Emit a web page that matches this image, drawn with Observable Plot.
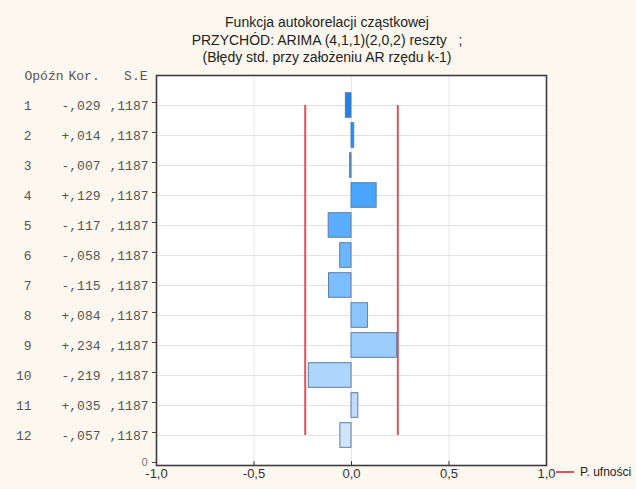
<!DOCTYPE html>
<html>
<head>
<meta charset="utf-8">
<script src="https://cdn.jsdelivr.net/npm/d3@7"></script>
<script src="https://cdn.jsdelivr.net/npm/@observablehq/plot@0.6"></script>
<style>
  html, body { margin: 0; padding: 0; }
  #wrap { position: relative; width: 636px; height: 489px; overflow: hidden; background: #fcf8ef; font-family: "Liberation Sans", Arial, sans-serif; }
  #title { position: absolute; left: 0; top: 14px; width: 654px; text-align: center; font-size: 14px; line-height: 17.5px; color: #222; white-space: pre; }
  #chart { position: absolute; left: 0; top: 66px; }
  #legend { position: absolute; left: 556px; top: 465px; font-size: 12px; color: #222; white-space: nowrap; }
  #legend .ln { display: inline-block; width: 18px; height: 0; border-top: 2px solid #d9545e; vertical-align: middle; margin-right: 6px; position: relative; top: -1px; }
</style>
</head>
<body>
<div id="wrap">
  <div id="title">Funkcja autokorelacji cząstkowej
PRZYCHÓD: ARIMA (4,1,1)(2,0,2) reszty   ;
(Błędy std. przy założeniu AR rzędu k-1)</div>
  <div id="chart"></div>
  <div id="legend"><span class="ln"></span>P. ufności</div>
</div>
<script>
// Data
const lags = [1, 2, 3, 4, 5, 6, 7, 8, 9, 10, 11, 12];
const kor = [-0.029, 0.014, -0.007, 0.129, -0.117, -0.058, -0.115, 0.084, 0.234, -0.219, 0.035, -0.057];
const se = [0.1187, 0.1187, 0.1187, 0.1187, 0.1187, 0.1187, 0.1187, 0.1187, 0.1187, 0.1187, 0.1187, 0.1187];
const headerLabels = ["Opóźn", "Kor.", "S.E"];
const xTicks = [-1, -0.5, 0, 0.5, 1];
const seLimit = 0.1187;

const nRow = lags.length + 1;
const rows = lags.map((lag, i) => ({lag, kor: kor[i], se: se[i], pos: nRow - lag}));

const fmtKor = v => (v < 0 ? "-" : "+") + "," + String(Math.round(Math.abs(v) * 1000)).padStart(3, "0");
const fmtSe = v => "," + String(Math.round(v * 10000));
const fmtX = v => d3.format(".1f")(v).replace(".", ",").replace("−", "-");

const mono = "'Liberation Mono', 'Courier New', monospace";

const plot = Plot.plot({
  width: 636,
  height: 423,
  marginTop: 9,
  marginBottom: 24,
  marginLeft: 156,
  marginRight: 90,
  style: {background: "transparent", fontFamily: "'Liberation Sans', Arial, sans-serif"},
  x: {domain: [-1, 1], label: null},
  y: {domain: [0, nRow], label: null},
  color: {type: "linear", domain: [1, 4, 8, 12], range: ["#2380ea", "#4aa6fd", "#8cc6ff", "#d0e5f9"]},
  marks: [
    Plot.frame({fill: "white", stroke: null}),
    Plot.ruleY(rows, {y: "pos", stroke: "#e2e2e2", strokeWidth: 1}),
    Plot.ruleX([-0.5, 0, 0.5], {stroke: "#e4e6ee", strokeWidth: 1}),
    Plot.ruleX([-2 * seLimit, 2 * seLimit], {y1: nRow - lags[0], y2: nRow - lags[lags.length - 1], stroke: "#d9545e", strokeWidth: 2}),
    Plot.rect(rows, {x1: 0, x2: "kor", y1: d => d.pos - 0.41, y2: d => d.pos + 0.41, fill: "lag", stroke: "#5a7da8", strokeWidth: 1}),
    Plot.ruleX(xTicks, {y1: 0, y2: 0.13, stroke: "#333", strokeWidth: 1}),
    Plot.frame({stroke: "#3d3d3d", strokeWidth: 1.6}),
    Plot.axisX({ticks: xTicks, tickSize: 0, tickPadding: 3, tickFormat: fmtX, fontSize: 13, fill: "#333", label: null}),
    Plot.axisY({ticks: d3.range(0, nRow), tickSize: 4, tickPadding: 5, tickFormat: d => d === 0 ? "0" : "", fontSize: 11, dy: -3, fill: "#777", stroke: "#444", label: null}),
    // left table columns
    Plot.text(rows, {y: "pos", frameAnchor: "left", text: d => String(d.lag), textAnchor: "end", dx: -125, fontFamily: mono, fontSize: 13, fill: "#555"}),
    Plot.text(rows, {y: "pos", frameAnchor: "left", text: d => fmtKor(d.kor), textAnchor: "end", dx: -56, fontFamily: mono, fontSize: 13, fill: "#555"}),
    Plot.text(rows, {y: "pos", frameAnchor: "left", text: d => fmtSe(d.se), textAnchor: "end", dx: -8, fontFamily: mono, fontSize: 13, fill: "#555"}),
    Plot.text([headerLabels[0]], {y: nRow, frameAnchor: "left", text: d => d, textAnchor: "start", dx: -132, fontFamily: mono, fontSize: 13, fill: "#555"}),
    Plot.text([headerLabels[1]], {y: nRow, frameAnchor: "left", text: d => d, textAnchor: "start", dx: -88, fontFamily: mono, fontSize: 13, fill: "#555"}),
    Plot.text([headerLabels[2]], {y: nRow, frameAnchor: "left", text: d => d, textAnchor: "end", dx: -9, fontFamily: mono, fontSize: 13, fill: "#555"})
  ]
});
document.getElementById("chart").appendChild(plot);
</script>
</body>
</html>
